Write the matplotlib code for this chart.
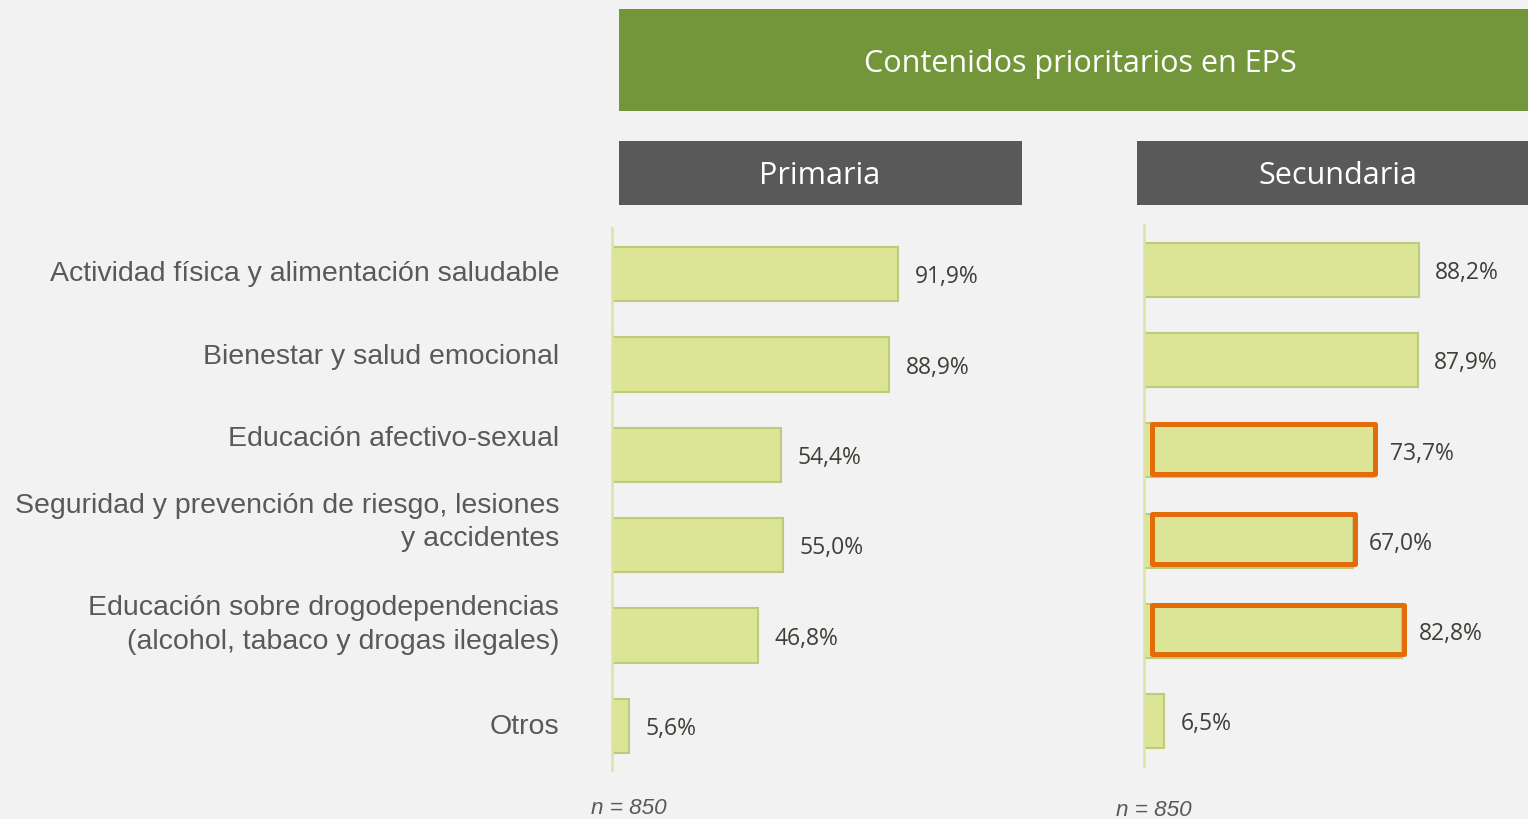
import matplotlib.pyplot as plt
from matplotlib.patches import Rectangle

categories = [
    "Actividad física y alimentación saludable",
    "Bienestar y salud emocional",
    "Educación afectivo-sexual",
    "Seguridad y prevención de riesgo, lesiones\ny accidentes",
    "Educación sobre drogodependencias\n(alcohol, tabaco y drogas ilegales)",
    "Otros",
]
primaria = [91.9, 88.9, 54.4, 55.0, 46.8, 5.6]
secundaria = [88.2, 87.9, 73.7, 67.0, 82.8, 6.5]
highlight_sec = [False, False, True, True, True, False]
title = "Contenidos prioritarios en EPS"
panel_titles = ["Primaria", "Secundaria"]
n_note = "n = 850"

# layout
W, H = 1528, 819
BG = "#f2f2f2"
BAR = "#dce496"
BAR_EDGE = "#bccb7c"
AXLINE = "#dbe4a6"
label_shift = [0.0, -0.08, -0.17, -0.25, -0.12, 0.01]

fig = plt.figure(figsize=(W / 100, H / 100), dpi=100, facecolor=BG)


def fx(x):
    return x / W


def fy(y):
    return 1 - y / H


def box(x0, y0, x1, y1, color):
    fig.add_artist(Rectangle((fx(x0), fy(y1)), fx(x1 - x0), (y1 - y0) / H,
                             transform=fig.transFigure, facecolor=color,
                             edgecolor="none", zorder=0))


# banners
box(619, 9, 1528, 111, "#74963a")
fig.text(fx(1080), fy(64), title, color="white", fontsize=22,
         family="Open Sans", ha="center", va="center")
box(619, 141, 1022, 205, "#595959")
box(1137, 141, 1528, 205, "#595959")
fig.text(fx(820), fy(176), panel_titles[0], color="white", fontsize=22,
         family="Open Sans", ha="center", va="center")
fig.text(fx(1338), fy(176), panel_titles[1], color="white", fontsize=22,
         family="Open Sans", ha="center", va="center")

scale = 3.115  # px per percent


def make_axes(x_axis, y_top, y_bottom, y_first, step):
    ax = fig.add_axes([fx(x_axis), fy(y_bottom), fx(100 * scale), (y_bottom - y_top) / H])
    ax.set_facecolor("none")
    ax.set_xlim(0, 100)
    ax.set_ylim((y_bottom - y_first) / step, (y_top - y_first) / step)
    for s in ["top", "right", "bottom"]:
        ax.spines[s].set_visible(False)
    ax.spines["left"].set_color(AXLINE)
    ax.spines["left"].set_linewidth(1.8)
    ax.set_xticks([])
    ax.set_yticks([])
    return ax


ax1 = make_axes(612, 228, 770, 274, 90.4)
ax2 = make_axes(1144, 225, 766, 270, 90.2)

ypos = list(range(len(categories)))
for ax, vals in [(ax1, primaria), (ax2, secundaria)]:
    ax.barh(ypos, vals, height=0.6, color=BAR, edgecolor=BAR_EDGE, linewidth=1.5, zorder=2)
    for i, v in enumerate(vals):
        ax.text(v + 5.3, i + 0.035, f"{v:.1f}".replace(".", ",") + "%", va="center", ha="left",
                fontsize=16.5, family="Open Sans", color="#3d4038")

for i, flag in enumerate(highlight_sec):
    if flag:
        ax2.add_patch(Rectangle((2.6, i - 0.29), secundaria[i] - 2.0, 0.55, fill=False,
                                edgecolor="#e36c0a", linewidth=3.6, zorder=3,
                                joinstyle="round"))

for i, lab in enumerate(categories):
    ax1.text(-17, i + label_shift[i], lab, ha="right", va="center", fontsize=20.5,
             family="Liberation Sans", color="#595959", linespacing=1.38)

fig.text(fx(629), fy(809), n_note, ha="center", va="center", fontsize=16.2,
         family="Liberation Sans", style="italic", color="#595959")
fig.text(fx(1154), fy(811), n_note, ha="center", va="center", fontsize=16.2,
         family="Liberation Sans", style="italic", color="#595959")

fig.savefig("out.png", dpi=100, facecolor=BG)
